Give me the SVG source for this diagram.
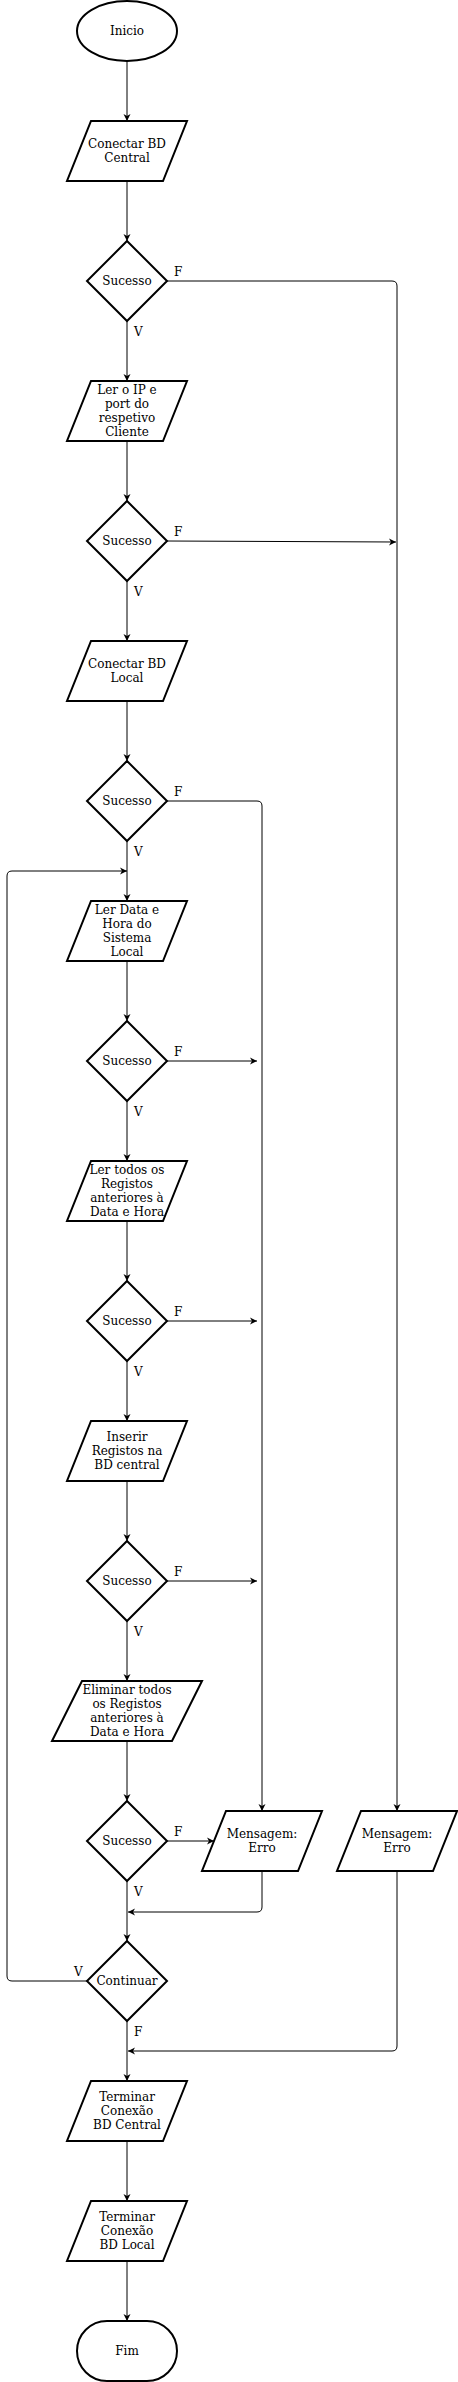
<svg xmlns="http://www.w3.org/2000/svg" width="458" height="2382" viewBox="0 0 458 2382">
<style>
.s{fill:#fff;stroke:#000;stroke-width:2}
.c{fill:none;stroke:#000;stroke-width:1}
.t{font-family:"DejaVu Serif","Liberation Serif",serif;font-size:12px;fill:#000;text-anchor:middle}
.l{font-family:"DejaVu Serif","Liberation Serif",serif;font-size:12px;fill:#000}
</style>
<defs>
<marker id="ah" markerWidth="8" markerHeight="8" refX="7" refY="4" orient="auto" markerUnits="userSpaceOnUse">
<path d="M0,0.5 L7,4 L0,7.5 L2,4 Z" fill="#000"/>
</marker>
</defs>
<rect width="458" height="2382" fill="#fff"/>
<g id="connectors">
<path class="c" marker-end="url(#ah)" d="M127,61 V121"/>
<path class="c" marker-end="url(#ah)" d="M127,181 V241"/>
<path class="c" marker-end="url(#ah)" d="M127,321 V381"/>
<path class="c" marker-end="url(#ah)" d="M167,281 H392 Q397,281 397,286 V1811"/>
<path class="c" marker-end="url(#ah)" d="M127,441 V501"/>
<path class="c" marker-end="url(#ah)" d="M167,541 L396,542"/>
<path class="c" marker-end="url(#ah)" d="M127,581 V641"/>
<path class="c" marker-end="url(#ah)" d="M127,701 V761"/>
<path class="c" marker-end="url(#ah)" d="M167,801 H257 Q262,801 262,806 V1811"/>
<path class="c" marker-end="url(#ah)" d="M127,841 V901"/>
<path class="c" marker-end="url(#ah)" d="M127,961 V1021"/>
<path class="c" marker-end="url(#ah)" d="M167,1061 H257"/>
<path class="c" marker-end="url(#ah)" d="M127,1101 V1161"/>
<path class="c" marker-end="url(#ah)" d="M127,1221 V1281"/>
<path class="c" marker-end="url(#ah)" d="M167,1321 H257"/>
<path class="c" marker-end="url(#ah)" d="M127,1361 V1421"/>
<path class="c" marker-end="url(#ah)" d="M127,1481 V1541"/>
<path class="c" marker-end="url(#ah)" d="M167,1581 H257"/>
<path class="c" marker-end="url(#ah)" d="M127,1621 V1681"/>
<path class="c" marker-end="url(#ah)" d="M127,1741 V1801"/>
<path class="c" marker-end="url(#ah)" d="M167,1841 H214"/>
<path class="c" marker-end="url(#ah)" d="M127,1881 V1941"/>
<path class="c" marker-end="url(#ah)" d="M262,1871 V1907 Q262,1912 257,1912 H128"/>
<path class="c" marker-end="url(#ah)" d="M87,1981 H12 Q7,1981 7,1976 V876 Q7,871 12,871 H127"/>
<path class="c" marker-end="url(#ah)" d="M127,2021 V2081"/>
<path class="c" marker-end="url(#ah)" d="M397,1871 V2046 Q397,2051 392,2051 H128"/>
<path class="c" marker-end="url(#ah)" d="M127,2141 V2201"/>
<path class="c" marker-end="url(#ah)" d="M127,2261 V2321"/>
<text class="l" x="174" y="276">F</text>
<text class="l" x="134" y="336">V</text>
<text class="l" x="174" y="536">F</text>
<text class="l" x="134" y="596">V</text>
<text class="l" x="174" y="796">F</text>
<text class="l" x="134" y="856">V</text>
<text class="l" x="174" y="1056">F</text>
<text class="l" x="134" y="1116">V</text>
<text class="l" x="174" y="1316">F</text>
<text class="l" x="134" y="1376">V</text>
<text class="l" x="174" y="1576">F</text>
<text class="l" x="134" y="1636">V</text>
<text class="l" x="174" y="1836">F</text>
<text class="l" x="134" y="1896">V</text>
<text class="l" x="74" y="1976">V</text>
<text class="l" x="134" y="2036">F</text>
</g>
<g id="inicio">
<ellipse class="s" cx="127" cy="31" rx="50" ry="30"/>
<text class="t" x="127" y="35">Inicio</text>
</g>
<g id="conectar-central">
<path class="s" d="M91,121 H187 L163,181 H67 Z"/>
<text class="t" x="127" y="148">Conectar BD</text>
<text class="t" x="127" y="162">Central</text>
</g>
<g id="sucesso1">
<path class="s" d="M127,241 L167,281 L127,321 L87,281 Z"/>
<text class="t" x="127" y="285">Sucesso</text>
</g>
<g id="ler-ip">
<path class="s" d="M91,381 H187 L163,441 H67 Z"/>
<text class="t" x="127" y="394">Ler o IP e</text>
<text class="t" x="127" y="408">port do</text>
<text class="t" x="127" y="422">respetivo</text>
<text class="t" x="127" y="436">Cliente</text>
</g>
<g id="sucesso2">
<path class="s" d="M127,501 L167,541 L127,581 L87,541 Z"/>
<text class="t" x="127" y="545">Sucesso</text>
</g>
<g id="conectar-local">
<path class="s" d="M91,641 H187 L163,701 H67 Z"/>
<text class="t" x="127" y="668">Conectar BD</text>
<text class="t" x="127" y="682">Local</text>
</g>
<g id="sucesso3">
<path class="s" d="M127,761 L167,801 L127,841 L87,801 Z"/>
<text class="t" x="127" y="805">Sucesso</text>
</g>
<g id="ler-data">
<path class="s" d="M91,901 H187 L163,961 H67 Z"/>
<text class="t" x="127" y="914">Ler Data e</text>
<text class="t" x="127" y="928">Hora do</text>
<text class="t" x="127" y="942">Sistema</text>
<text class="t" x="127" y="956">Local</text>
</g>
<g id="sucesso4">
<path class="s" d="M127,1021 L167,1061 L127,1101 L87,1061 Z"/>
<text class="t" x="127" y="1065">Sucesso</text>
</g>
<g id="ler-registos">
<path class="s" d="M91,1161 H187 L163,1221 H67 Z"/>
<text class="t" x="127" y="1174">Ler todos os</text>
<text class="t" x="127" y="1188">Registos</text>
<text class="t" x="127" y="1202">anteriores à</text>
<text class="t" x="127" y="1216">Data e Hora</text>
</g>
<g id="sucesso5">
<path class="s" d="M127,1281 L167,1321 L127,1361 L87,1321 Z"/>
<text class="t" x="127" y="1325">Sucesso</text>
</g>
<g id="inserir">
<path class="s" d="M91,1421 H187 L163,1481 H67 Z"/>
<text class="t" x="127" y="1441">Inserir</text>
<text class="t" x="127" y="1455">Registos na</text>
<text class="t" x="127" y="1469">BD central</text>
</g>
<g id="sucesso6">
<path class="s" d="M127,1541 L167,1581 L127,1621 L87,1581 Z"/>
<text class="t" x="127" y="1585">Sucesso</text>
</g>
<g id="eliminar">
<path class="s" d="M82,1681 H202 L172,1741 H52 Z"/>
<text class="t" x="127" y="1694">Eliminar todos</text>
<text class="t" x="127" y="1708">os Registos</text>
<text class="t" x="127" y="1722">anteriores à</text>
<text class="t" x="127" y="1736">Data e Hora</text>
</g>
<g id="sucesso7">
<path class="s" d="M127,1801 L167,1841 L127,1881 L87,1841 Z"/>
<text class="t" x="127" y="1845">Sucesso</text>
</g>
<g id="erro1">
<path class="s" d="M226,1811 H322 L298,1871 H202 Z"/>
<text class="t" x="262" y="1838">Mensagem:</text>
<text class="t" x="262" y="1852">Erro</text>
</g>
<g id="erro2">
<path class="s" d="M361,1811 H457 L433,1871 H337 Z"/>
<text class="t" x="397" y="1838">Mensagem:</text>
<text class="t" x="397" y="1852">Erro</text>
</g>
<g id="continuar">
<path class="s" d="M127,1941 L167,1981 L127,2021 L87,1981 Z"/>
<text class="t" x="127" y="1985">Continuar</text>
</g>
<g id="terminar-central">
<path class="s" d="M91,2081 H187 L163,2141 H67 Z"/>
<text class="t" x="127" y="2101">Terminar</text>
<text class="t" x="127" y="2115">Conexão</text>
<text class="t" x="127" y="2129">BD Central</text>
</g>
<g id="terminar-local">
<path class="s" d="M91,2201 H187 L163,2261 H67 Z"/>
<text class="t" x="127" y="2221">Terminar</text>
<text class="t" x="127" y="2235">Conexão</text>
<text class="t" x="127" y="2249">BD Local</text>
</g>
<g id="fim">
<rect class="s" x="77" y="2321" width="100" height="60" rx="30" ry="30"/>
<text class="t" x="127" y="2355">Fim</text>
</g>
</svg>
